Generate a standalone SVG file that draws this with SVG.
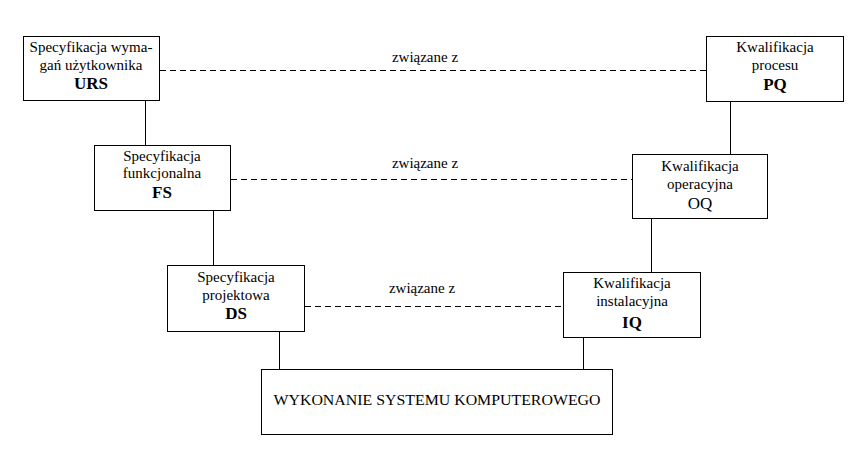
<svg xmlns="http://www.w3.org/2000/svg" width="866" height="473" viewBox="0 0 866 473">
<style>
.box{fill:#fff;stroke:#000;stroke-width:1}
.t{font-family:"Liberation Serif","Times New Roman",serif;font-size:15px;fill:#000;text-anchor:middle}
.b{font-weight:bold;font-size:17px}
.solid{stroke:#000;stroke-width:1;fill:none}
.dash{stroke:#000;stroke-width:1;fill:none;stroke-dasharray:6,4}
</style>
<rect width="866" height="473" fill="#fff"/>
<g id="connectors">
<line class="solid" x1="145.5" y1="100" x2="145.5" y2="145"/>
<line class="solid" x1="213.5" y1="210" x2="213.5" y2="265"/>
<line class="solid" x1="279.5" y1="331" x2="279.5" y2="369"/>
<line class="solid" x1="730.5" y1="101" x2="730.5" y2="154"/>
<line class="solid" x1="651.5" y1="218" x2="651.5" y2="272"/>
<line class="solid" x1="583.5" y1="337" x2="583.5" y2="369"/>
<line class="dash" x1="160" y1="70.5" x2="706" y2="70.5"/>
<line class="dash" x1="231" y1="179.5" x2="632" y2="179.5"/>
<line class="dash" x1="305" y1="306.5" x2="563" y2="306.5"/>
<text class="t" x="425" y="62">związane z</text>
<text class="t" x="425" y="168">związane z</text>
<text class="t" x="422" y="293">związane z</text>
</g>
<g id="URS">
<rect class="box" x="23.5" y="36.5" width="136" height="64"/>
<text class="t" x="91" y="52">Specyfikacja wyma-</text>
<text class="t" x="91" y="70">gań użytkownika</text>
<text class="t b" x="91" y="89">URS</text>
</g>
<g id="FS">
<rect class="box" x="94.5" y="145.5" width="136" height="65"/>
<text class="t" x="162" y="161">Specyfikacja</text>
<text class="t" x="162" y="178">funkcjonalna</text>
<text class="t b" x="162" y="198">FS</text>
</g>
<g id="DS">
<rect class="box" x="167.5" y="265.5" width="137" height="66"/>
<text class="t" x="236" y="282">Specyfikacja</text>
<text class="t" x="236" y="300">projektowa</text>
<text class="t b" x="236" y="319">DS</text>
</g>
<g id="PQ">
<rect class="box" x="706.5" y="36.5" width="137" height="65"/>
<text class="t" x="775" y="52">Kwalifikacja</text>
<text class="t" x="775" y="70">procesu</text>
<text class="t b" x="775" y="90">PQ</text>
</g>
<g id="OQ">
<rect class="box" x="632.5" y="154.5" width="135" height="64"/>
<text class="t" x="700" y="171">Kwalifikacja</text>
<text class="t" x="700" y="189">operacyjna</text>
<text class="t" x="700" y="209" style="font-size:17px">OQ</text>
</g>
<g id="IQ">
<rect class="box" x="563.5" y="272.5" width="137" height="65"/>
<text class="t" x="632" y="288">Kwalifikacja</text>
<text class="t" x="632" y="306">instalacyjna</text>
<text class="t b" x="632" y="328">IQ</text>
</g>
<g id="WSK">
<rect class="box" x="261.5" y="369.5" width="351" height="65"/>
<text class="t" x="437" y="405" textLength="327" lengthAdjust="spacingAndGlyphs">WYKONANIE SYSTEMU KOMPUTEROWEGO</text>
</g>
</svg>
